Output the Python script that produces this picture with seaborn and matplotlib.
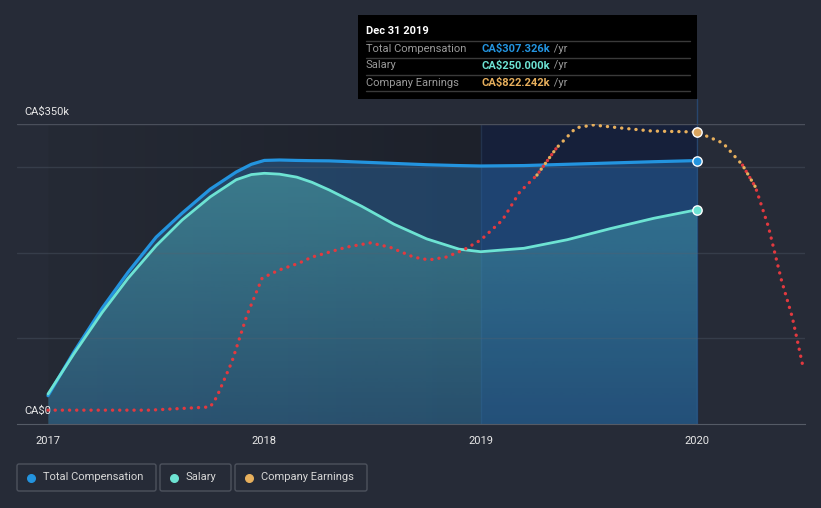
import numpy as np
import pandas as pd
import matplotlib
matplotlib.use('Agg')
import matplotlib.pyplot as plt
import matplotlib.transforms as mtransforms
from matplotlib.patches import Rectangle, FancyBboxPatch
from matplotlib.colors import LinearSegmentedColormap, to_rgb
import seaborn as sns

# ---- data (CA$ thousands) ----
comp_years = [2017.0, 2017.12, 2017.25, 2017.37, 2017.5, 2017.62, 2017.75, 2017.87,
              2017.94, 2018.0, 2018.07, 2018.15, 2018.22, 2018.3, 2018.45, 2018.6,
              2018.75, 2018.9, 2019.0, 2019.2, 2019.4, 2019.6, 2019.8, 2020.0]
total_comp = [33, 84, 135, 177, 218, 246, 274, 294,
              303, 307.5, 308, 307.5, 307.2, 307, 305.5, 304,
              302.5, 301.5, 301, 301.5, 303, 304.5, 306, 307.326]
salary = [35, 82, 130, 170, 208, 238, 265, 285,
          291, 292.5, 291.5, 288, 282, 273, 254, 233,
          216, 204, 201, 205, 215, 228, 240, 250]

earn_years = [2017.0, 2017.47, 2017.75, 2017.78, 2017.85, 2017.92, 2017.99, 2018.07,
              2018.16, 2018.22, 2018.38, 2018.49, 2018.58, 2018.69, 2018.76, 2018.84,
              2018.92, 2019.0, 2019.10, 2019.18, 2019.26, 2019.35, 2019.44, 2019.52,
              2019.64, 2019.79, 2020.0, 2020.12, 2020.21, 2020.27, 2020.33, 2020.39,
              2020.44, 2020.49]
earnings = [39, 39, 48, 76, 175, 307, 411, 434,
            453, 470, 498, 510, 498, 470, 462, 470,
            490, 518, 574, 653, 701, 777, 834, 842,
            834, 825, 822.242, 791, 729, 667, 555, 405,
            301, 160]

x_ticks = [2017, 2018, 2019, 2020]
tip_date = 'Dec 31 2019'
tip_rows = ['Total Compensation', 'Salary', 'Company Earnings']
tip_vals = ['CA$307.326k', 'CA$250.000k', 'CA$822.242k']

BG = '#262b37'
BLUE = '#2394df'
MINT = '#6de3d3'
ORANGE = '#e8b05d'
RED = '#e2393f'

sns.set_style('dark')
plt.rcParams['font.family'] = ['Roboto', 'DejaVu Sans']

fig = plt.figure(figsize=(8.21, 5.08), dpi=100, facecolor=BG)
ax = fig.add_axes([17 / 821, 1 - 424 / 508, 788 / 821, 300 / 508])
ax.set_facecolor(BG)
x0, x1 = 2017 - 31 / 216.5, 2020 + 108 / 216.5
ax.set_xlim(x0, x1)
ax.set_ylim(0, 350)

# shaded backgrounds
grad = np.linspace(0, 1, 256).reshape(1, -1)
cm_bg = LinearSegmentedColormap.from_list('bg', ['#252a35', '#1d212b'])
ax.imshow(grad, extent=[2017, 2019, 0, 350], aspect='auto', cmap=cm_bg, zorder=0)
ax.axvspan(2019, 2020, color='#16203a', zorder=0.5)

for v in [100, 200, 300]:
    ax.axhline(v, color='#55606e', lw=1, alpha=0.35, zorder=3)
ax.axhline(350, color='#4a4f5b', lw=1, zorder=3)

# fills
ax.fill_between(comp_years, 0, total_comp, color='#2a6fb0', alpha=0.42, lw=0, zorder=2)
sal_poly = ax.fill_between(comp_years, 0, salary, color='none', lw=0, zorder=2.1)
rgba = np.zeros((256, 1, 4))
rgba[:, 0, :3] = to_rgb('#5fd0c8')
rgba[:, 0, 3] = np.linspace(0.40, 0.10, 256)
img = ax.imshow(rgba, extent=[2017, 2020, 0, 300], aspect='auto', zorder=2.1, origin='upper')
img.set_clip_path(sal_poly.get_paths()[0], transform=ax.transData)
ax.axvspan(2019, 2020, ymax=300 / 350, color='#1e5aa8', alpha=0.1, lw=0, zorder=2.5)

df = pd.DataFrame({'year': comp_years, 'total': total_comp, 'salary': salary})
sns.lineplot(data=df, x='year', y='total', ax=ax, color=BLUE, lw=2.3, zorder=4)
sns.lineplot(data=df, x='year', y='salary', ax=ax, color=MINT, lw=2.0, zorder=4)

ax.axvline(2019, color='#22324c', lw=1, zorder=1.5)
ax.axvline(2020, ymin=0, ymax=(424 - 99) / 300, color='#27466e', lw=1, zorder=1.5, clip_on=False)

# earnings on its own scale
ax2 = ax.twinx()
ax2.set_ylim(0, 300 * 822.242 / 292)
ax2.set_xlim(x0, x1)
ax2.axis('off')
e = np.array(earnings)
thr = 715
hi = e >= thr
hi_ext = hi | np.r_[hi[1:], False] | np.r_[False, hi[:-1]]
lo = ~hi
lo_ext = lo | np.r_[lo[1:], False] | np.r_[False, lo[:-1]]
dots = (0, (0.05, 2.1))
ax2.plot(earn_years, np.where(lo_ext, e, np.nan), color=RED, lw=2.4,
         linestyle=dots, dash_capstyle='round', zorder=5)
ax2.plot(earn_years, np.where(hi_ext, e, np.nan), color=ORANGE, lw=2.4,
         linestyle=dots, dash_capstyle='round', zorder=5)

# end markers
ax.scatter([comp_years[-1]], [total_comp[-1]], s=45, color=BLUE, edgecolor='white', lw=1, zorder=6, clip_on=False)
ax.scatter([comp_years[-1]], [salary[-1]], s=45, color=MINT, edgecolor='white', lw=1, zorder=6, clip_on=False)
ax2.scatter([2020.0], [822.242], s=45, color='#d9a45e', edgecolor='white', lw=1, zorder=6, clip_on=False)

# axes styling
for s in ['top', 'left', 'right']:
    ax.spines[s].set_visible(False)
ax.spines['bottom'].set_color('#555b66')
ax.set_yticks([])
ax.set_xticks(x_ticks)
ax.set_xticklabels([str(t) for t in x_ticks])
ax.tick_params(axis='x', colors='#555b66', labelcolor='#e8e8e8', length=4, width=1,
               labelsize=8, pad=5)
ax.set_xlabel('')
ax.set_ylabel('')
ax.grid(False)

tr = mtransforms.blended_transform_factory(ax.transAxes, ax.transData)
ax.annotate('CA$350k', xy=(7 / 788, 350), xycoords=tr, xytext=(0, 12), textcoords='offset pixels',
            ha='left', va='center', color='#e8e8e8', fontsize=8)
ax.annotate('CA$0', xy=(7 / 788, 0), xycoords=tr, xytext=(0, 13), textcoords='offset pixels',
            ha='left', va='center', color='#e8e8e8', fontsize=8)

# overlay for tooltip and legend (pixel coordinates)
ov = fig.add_axes([0, 0, 1, 1], zorder=10)
ov.set_xlim(0, 821)
ov.set_ylim(508, 0)
ov.axis('off')
ov.patch.set_alpha(0)

ov.add_patch(Rectangle((358, 15), 339, 84, facecolor='black', edgecolor='none'))
ov.text(366, 31, tip_date, color='white', fontsize=8, fontweight='bold', va='center')
for yl in [40.5, 57.5, 74.5, 91]:
    ov.plot([366, 690], [yl, yl], color='#3a3a3a', lw=1)
for i, (lab, val, c) in enumerate(zip(tip_rows, tip_vals, [BLUE, MINT, ORANGE])):
    yy = 48.5 + 17 * i
    ov.text(366, yy, lab, color='#9a9a9a', fontsize=8, va='center')
    t = ov.text(482, yy, val, color=c, fontsize=8, fontweight='bold', va='center')
    ov.annotate(' /yr', xy=(1, 0.5), xycoords=t, va='center', ha='left', color='#9a9a9a', fontsize=8)

legend_items = [('Total Compensation', BLUE, 17, 139), ('Salary', MINT, 160, 71),
                ('Company Earnings', ORANGE, 235, 132)]
for lab, c, lx, lw_ in legend_items:
    ov.add_patch(FancyBboxPatch((lx, 464), lw_, 27, boxstyle='round,pad=0,rounding_size=2',
                                facecolor='none', edgecolor='#4d525d', lw=1))
    ov.scatter([lx + 14], [477.5], s=30, color=c, zorder=11)
    ov.text(lx + 26, 477.5, lab, color='#d6d6d6', fontsize=8, va='center')

fig.savefig('out.png', dpi=100, facecolor=BG)
